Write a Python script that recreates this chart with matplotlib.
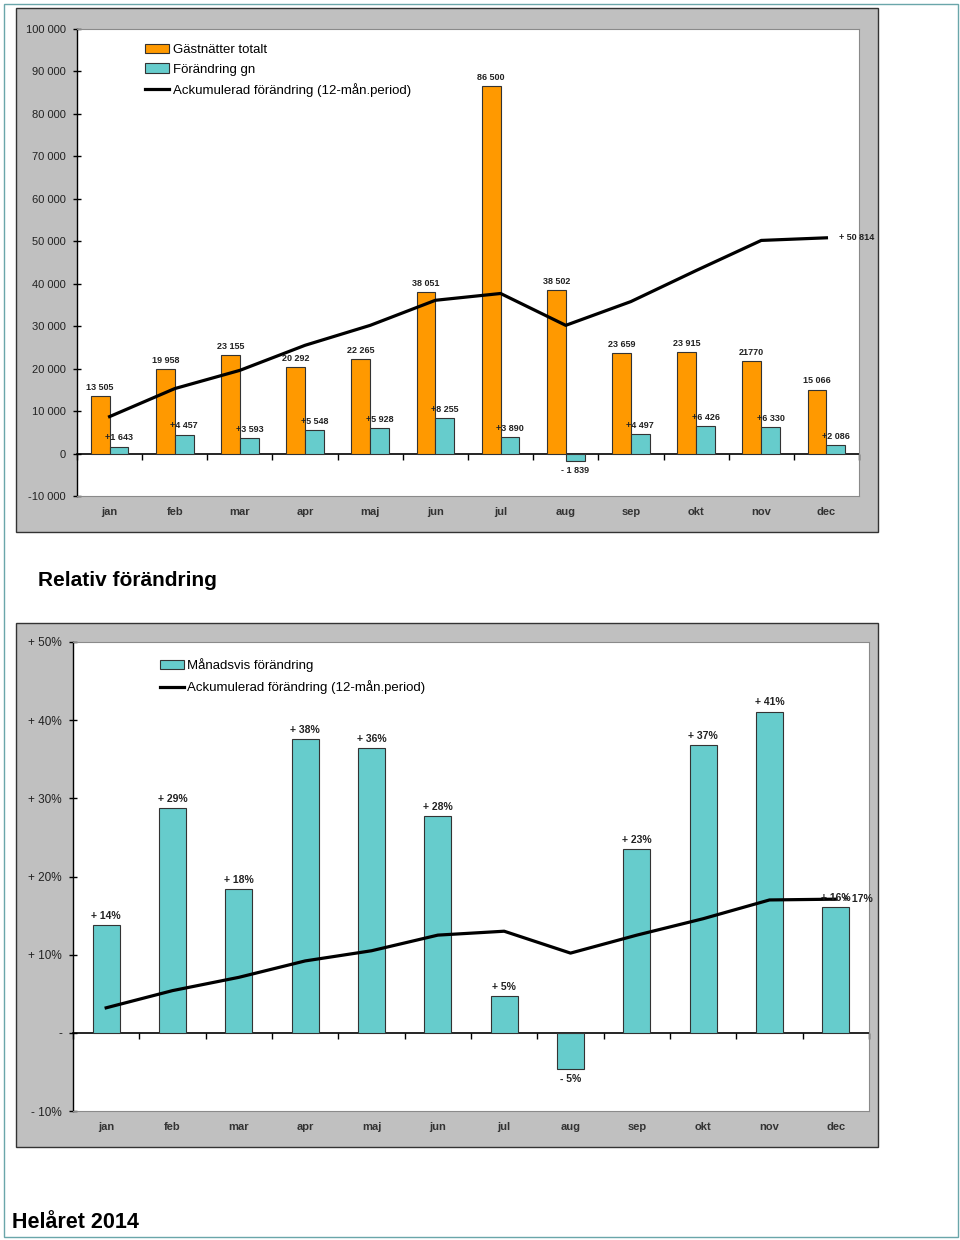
import numpy as np
import matplotlib
matplotlib.use('Agg')
import matplotlib.pyplot as plt
from matplotlib.patches import Rectangle, Patch
from matplotlib.lines import Line2D

plt.rcParams['font.family'] = ['Liberation Sans', 'DejaVu Sans']

months = ['jan', 'feb', 'mar', 'apr', 'maj', 'jun', 'jul', 'aug', 'sep', 'okt', 'nov', 'dec']

# absolute numbers
gastnatter = [13505, 19958, 23155, 20292, 22265, 38051, 86500, 38502, 23659, 23915, 21770, 15066]
gastnatter_labels = ['13 505', '19 958', '23 155', '20 292', '22 265', '38 051',
                     '86 500', '38 502', '23 659', '23 915', '21770', '15 066']
forandring_gn = [1643, 4457, 3593, 5548, 5928, 8255, 3890, -1839, 4497, 6426, 6330, 2086]
forandring_labels = ['+1 643', '+4 457', '+3 593', '+5 548', '+5 928', '+8 255',
                     '+3 890', '- 1 839', '+4 497', '+6 426', '+6 330', '+2 086']
ackum_gn = [8700, 15300, 19600, 25500, 30200, 36100, 37700, 30200, 35800, 43100, 50200, 50814]
ackum_gn_label = '+ 50 814'

# relative numbers (%)
manad_pct = [13.8, 28.8, 18.4, 37.6, 36.4, 27.7, 4.7, -4.6, 23.5, 36.8, 41.1, 16.1]
manad_pct_labels = ['+ 14%', '+ 29%', '+ 18%', '+ 38%', '+ 36%', '+ 28%',
                    '+ 5%', '- 5%', '+ 23%', '+ 37%', '+ 41%', '+ 16%']
ackum_pct = [3.2, 5.4, 7.1, 9.2, 10.5, 12.5, 13.0, 10.2, 12.5, 14.6, 17.0, 17.1]
ackum_pct_label = '+ 17%'
pct_ticks = [-10, 0, 10, 20, 30, 40, 50]
pct_ticklabels = ['- 10%', '-', '+ 10%', '+ 20%', '+ 30%', '+ 40%', '+ 50%']

ORANGE = '#ff9900'
TEAL = '#66cccc'
EDGE = '#333333'
FRAME = '#c0c0c0'

W, H = 960, 1240


def fx(px):
    return px / W


def fy(py):
    return 1 - py / H


def style_axes(ax, n, ylabelsize=8):
    x = np.arange(n)
    ax.set_xlim(-0.5, n - 0.5)
    ax.set_xticks(x)
    ax.set_xticklabels(months, fontsize=8, fontweight='bold', color='#333333')
    ax.tick_params(axis='x', length=0, pad=8)
    ax.tick_params(axis='y', direction='inout', length=6, width=1, pad=5,
                   labelsize=ylabelsize, labelcolor='#222222')
    ax.spines['left'].set_color('black')
    ax.spines['left'].set_linewidth(1)
    for s in ['top', 'right', 'bottom']:
        ax.spines[s].set_color('#8a8a8a')
        ax.spines[s].set_linewidth(0.8)
    # zero line with category separators
    zero = ax.secondary_xaxis(0, transform=ax.transData)
    zero.set_xticks(np.arange(-0.5, n, 1.0))
    zero.set_xticklabels([])
    zero.tick_params(direction='out', length=4, width=1, color='black')
    zero.spines['bottom'].set_color('black')
    zero.spines['bottom'].set_linewidth(1.2)


fig = plt.figure(figsize=(9.6, 12.4), dpi=100)

# page border
fig.add_artist(Rectangle((fx(4), fy(1237)), fx(954), 1233 / H, transform=fig.transFigure,
                         fill=False, edgecolor='#6aa6aa', linewidth=1, zorder=-20))
# chart frames
for top, bottom in [(8, 532), (623, 1147)]:
    fig.add_artist(Rectangle((fx(16), fy(bottom)), fx(862), (bottom - top) / H,
                             transform=fig.transFigure, facecolor=FRAME,
                             edgecolor='#333333', linewidth=1, zorder=-10))

# ---------- top chart ----------
ax1 = fig.add_axes([fx(77), fy(496), fx(782), 467 / H])
x = np.arange(len(months))
w = 0.29
ax1.bar(x - w / 2, gastnatter, w, color=ORANGE, edgecolor=EDGE, linewidth=0.8)
ax1.bar(x + w / 2, forandring_gn, w, color=TEAL, edgecolor=EDGE, linewidth=0.8)
ax1.plot(x, ackum_gn, color='black', linewidth=2.3, zorder=5)
ax1.set_ylim(-10000, 100000)
yt = np.arange(-10000, 100001, 10000)
ax1.set_yticks(yt)
ax1.set_yticklabels([f'{v:,}'.replace(',', ' ') for v in yt])
style_axes(ax1, len(months))

for xi, v, lab in zip(x, gastnatter, gastnatter_labels):
    ax1.annotate(lab, (xi - w / 2, v), xytext=(0, 3), textcoords='offset points',
                 ha='center', va='bottom', fontsize=6.5, fontweight='bold', color='#222222')
for xi, v, lab in zip(x, forandring_gn, forandring_labels):
    if v >= 0:
        ax1.annotate(lab, (xi + w / 2, v), xytext=(0, 3), textcoords='offset points',
                     ha='center', va='bottom', fontsize=6.5, fontweight='bold', color='#222222',
                     zorder=6)
    else:
        ax1.annotate(lab, (xi + w / 2, v), xytext=(0, -3), textcoords='offset points',
                     ha='center', va='top', fontsize=6.5, fontweight='bold', color='#222222')
ax1.annotate(ackum_gn_label, (x[-1], ackum_gn[-1]), xytext=(9, 0), textcoords='offset points',
             ha='left', va='center', fontsize=6.5, fontweight='bold', color='#222222')

handles1 = [Patch(facecolor=ORANGE, edgecolor=EDGE, linewidth=0.8),
            Patch(facecolor=TEAL, edgecolor=EDGE, linewidth=0.8),
            Line2D([], [], color='black', linewidth=2.3)]
ax1.legend(handles1, ['Gästnätter totalt', 'Förändring gn', 'Ackumulerad förändring (12-mån.period)'],
           loc='upper left', bbox_to_anchor=(0.087, 0.968), frameon=False, fontsize=9.5,
           handlelength=1.8, handletextpad=0.3, labelspacing=0.55, borderpad=0, borderaxespad=0)

# ---------- heading ----------
fig.text(fx(38), fy(586), 'Relativ förändring', fontsize=15, fontweight='bold', va='baseline')

# ---------- bottom chart ----------
ax2 = fig.add_axes([fx(73), fy(1111), fx(796), 469 / H])
w2 = 0.41
ax2.bar(x, manad_pct, w2, color=TEAL, edgecolor=EDGE, linewidth=0.8)
ax2.plot(x, ackum_pct, color='black', linewidth=2.3, zorder=5)
ax2.set_ylim(-10, 50)
ax2.set_yticks(pct_ticks)
ax2.set_yticklabels(pct_ticklabels)
style_axes(ax2, len(months), ylabelsize=8.5)

for xi, v, lab in zip(x, manad_pct, manad_pct_labels):
    if v >= 0:
        ax2.annotate(lab, (xi, v), xytext=(0, 3), textcoords='offset points',
                     ha='center', va='bottom', fontsize=7.5, fontweight='bold', color='#222222',
                     zorder=6)
    else:
        ax2.annotate(lab, (xi, v), xytext=(0, -4), textcoords='offset points',
                     ha='center', va='top', fontsize=7.5, fontweight='bold', color='#222222')
ax2.annotate(ackum_pct_label, (x[-1], ackum_pct[-1]), xytext=(5, 0), textcoords='offset points',
             ha='left', va='center', fontsize=7.5, fontweight='bold', color='#222222', zorder=6)

handles2 = [Patch(facecolor=TEAL, edgecolor=EDGE, linewidth=0.8),
            Line2D([], [], color='black', linewidth=2.3)]
ax2.legend(handles2, ['Månadsvis förändring', 'Ackumulerad förändring (12-mån.period)'],
           loc='upper left', bbox_to_anchor=(0.109, 0.966), frameon=False, fontsize=9.5,
           handlelength=1.8, handletextpad=0.3, labelspacing=0.65, borderpad=0, borderaxespad=0)

fig.text(fx(12), fy(1228), 'Helåret 2014', fontsize=15.5, fontweight='bold', va='baseline')

fig.savefig('out.png', dpi=100)
